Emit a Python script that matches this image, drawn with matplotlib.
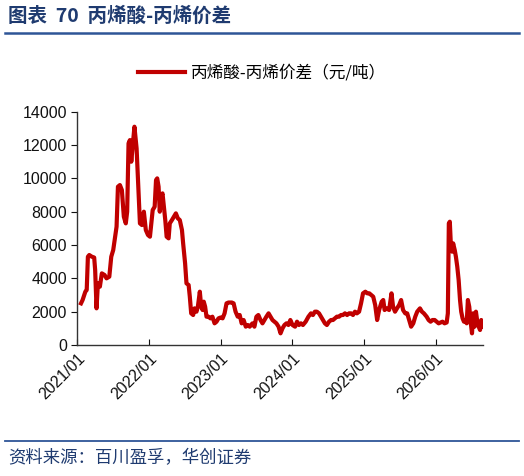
import numpy as np
import pandas as pd
import matplotlib
matplotlib.use("Agg")
import matplotlib.pyplot as plt
import matplotlib.dates as mdates

plt.rcParams['font.family'] = ['Liberation Sans', 'Noto Sans CJK SC', 'DejaVu Sans']

# data (yuan / ton)
dates = [
    "2021-01-20", "2021-01-28", "2021-02-11", "2021-02-18", "2021-02-24", "2021-03-03",
    "2021-03-16", "2021-03-28", "2021-04-02", "2021-04-09", "2021-04-16", "2021-04-26",
    "2021-05-06", "2021-05-20", "2021-05-30", "2021-06-13", "2021-06-23", "2021-07-03",
    "2021-07-13", "2021-07-20", "2021-07-27", "2021-08-06", "2021-08-16", "2021-08-26",
    "2021-09-05", "2021-09-12", "2021-09-19", "2021-09-26", "2021-10-03", "2021-10-09",
    "2021-10-19", "2021-10-30", "2021-11-09", "2021-11-16", "2021-11-26", "2021-12-06",
    "2021-12-16", "2021-12-27",
    "2022-01-06", "2022-01-20", "2022-01-30", "2022-02-06", "2022-02-12", "2022-02-19",
    "2022-02-25", "2022-03-04", "2022-03-11", "2022-03-18", "2022-03-25", "2022-04-01",
    "2022-04-11", "2022-04-17", "2022-04-28", "2022-05-08", "2022-05-18", "2022-05-28",
    "2022-06-07", "2022-06-18", "2022-06-24", "2022-07-04", "2022-07-11", "2022-07-22",
    "2022-07-28", "2022-08-04", "2022-08-14", "2022-08-21", "2022-08-31", "2022-09-07",
    "2022-09-17", "2022-09-24", "2022-10-01", "2022-10-07", "2022-10-14", "2022-10-21",
    "2022-10-31", "2022-11-10", "2022-11-20", "2022-12-01", "2022-12-11", "2022-12-21",
    "2023-01-01", "2023-01-11", "2023-01-21", "2023-01-31", "2023-02-10", "2023-02-27",
    "2023-03-08", "2023-03-18", "2023-03-29", "2023-04-08", "2023-04-18", "2023-04-28",
    "2023-05-09", "2023-05-19", "2023-05-29", "2023-06-12", "2023-06-22", "2023-07-02",
    "2023-07-12", "2023-07-23", "2023-08-02", "2023-08-12", "2023-08-22", "2023-09-02",
    "2023-09-12", "2023-09-22", "2023-10-02", "2023-10-12", "2023-10-23", "2023-11-02",
    "2023-11-12", "2023-11-22", "2023-12-02", "2023-12-12", "2023-12-22",
    "2024-01-02", "2024-01-15", "2024-01-25", "2024-02-04", "2024-02-14", "2024-02-24",
    "2024-03-09", "2024-03-23", "2024-04-05", "2024-04-15", "2024-04-25", "2024-05-05",
    "2024-05-16", "2024-05-26", "2024-06-05", "2024-06-15", "2024-06-25", "2024-07-06",
    "2024-07-16", "2024-07-26", "2024-08-05", "2024-08-15", "2024-08-26", "2024-09-05",
    "2024-09-15", "2024-09-25", "2024-10-06", "2024-10-16", "2024-10-26", "2024-11-05",
    "2024-11-15", "2024-11-25", "2024-12-06", "2024-12-16", "2024-12-26",
    "2025-01-07", "2025-01-17", "2025-01-27", "2025-02-06", "2025-02-16", "2025-02-26",
    "2025-03-08", "2025-03-18", "2025-03-31", "2025-04-08", "2025-04-15", "2025-04-25",
    "2025-05-08", "2025-05-20", "2025-05-28", "2025-06-07", "2025-06-17", "2025-06-28",
    "2025-07-08", "2025-07-18", "2025-07-29", "2025-08-08", "2025-08-18", "2025-08-28",
    "2025-09-08", "2025-09-18", "2025-09-28", "2025-10-12", "2025-10-22", "2025-11-01",
    "2025-11-15", "2025-11-25", "2025-12-05", "2025-12-15", "2025-12-26",
    "2026-01-05", "2026-01-15", "2026-01-25", "2026-02-04", "2026-02-14", "2026-02-25",
    "2026-03-03", "2026-03-08", "2026-03-13", "2026-03-18", "2026-03-25", "2026-03-30",
    "2026-04-07", "2026-04-13", "2026-04-20", "2026-04-27", "2026-05-04", "2026-05-10",
    "2026-05-17", "2026-05-24", "2026-05-31", "2026-06-07", "2026-06-13", "2026-06-20",
    "2026-06-27", "2026-07-04", "2026-07-10", "2026-07-17", "2026-07-24", "2026-07-31",
    "2026-08-07", "2026-08-14", "2026-08-20", "2026-08-27",
]
spread = [
    2500, 2700, 3200, 3300, 5300, 5400,
    5300, 5250, 4500, 2200, 3700, 3500,
    4300, 4200, 4000, 4100, 5300, 5700,
    6500, 7100, 9500, 9600, 9300, 7700,
    7300, 8000, 12100, 12300, 11000, 11800,
    13100, 11800, 9100, 7300, 7200, 8000,
    6900, 6600,
    6500, 8100, 8300, 9900, 10000, 9500,
    8000, 8900, 9100, 8300, 7500, 6500,
    6400, 7300, 7500, 7700, 7900, 7600,
    7500, 6900, 6100, 4900, 3700, 3600,
    2900, 1900, 1800, 2200, 2000, 2300,
    3200, 2300, 2100, 2600, 2300, 1700,
    1700, 1600, 1700, 1300, 1400, 1600,
    1650, 1600, 1900, 2500, 2550, 2550,
    2500, 2000, 1700, 1800, 1300, 1500,
    1100, 1200, 1100, 1300, 1100, 1700,
    1800, 1500, 1300, 1500, 1700, 1900,
    1700, 1500, 1400, 1300, 1100, 700,
    1000, 1200, 1300, 1200, 1500,
    1200, 1100, 1400, 1200, 1300, 1200,
    1400, 1700, 1900, 1800, 2000, 2000,
    1900, 1700, 1500, 1300, 1200, 1400,
    1500, 1500, 1600, 1700, 1700, 1800,
    1800, 1900, 1800, 1900, 1900, 1800,
    2000, 1900, 2000, 2500, 3100,
    3200, 3100, 3100, 3000, 2900, 2400,
    1500, 2100, 2600, 2700, 2100, 2200,
    2100, 3100, 2300, 2000, 2200, 2400,
    2700, 2100, 1900, 1900, 1500, 1100,
    1300, 1700, 2000, 2200, 2000, 1900,
    1700, 1500, 1400, 1500, 1500,
    1400, 1300, 1350, 1400, 1300, 1350,
    1900, 7300, 7400, 6100, 5600, 6100,
    5700, 5300, 4700, 3900, 2700, 2000,
    1600, 1400, 1500, 1300, 2700, 2300,
    1400, 700, 1900, 1100, 2000, 1400,
    1100, 900, 1500, 1100,
]
series_name = "丙烯酸-丙烯价差（元/吨）"
title = "图表  70  丙烯酸-丙烯价差"
source = "资料来源：百川盈孚，华创证券"

x = pd.to_datetime(dates)
y = np.array(spread)

fig = plt.figure(figsize=(5.24, 4.76), dpi=100)
ax = fig.add_axes([0.1475, 0.2752, 0.7735, 0.4901])

ax.plot(x, y, color="#C00000", linewidth=3.0, label=series_name)

ax.set_ylim(0, 14000)
ax.set_yticks(np.arange(0, 14001, 2000))
ax.set_xlim(pd.Timestamp("2021-01-01"), x[-1])
ax.xaxis.set_major_locator(mdates.YearLocator())
ax.xaxis.set_major_formatter(mdates.DateFormatter("%Y/%m"))

for s in ["top", "right"]:
    ax.spines[s].set_visible(False)
for s in ["left", "bottom"]:
    ax.spines[s].set_color("#333333")
    ax.spines[s].set_linewidth(1.0)

ax.tick_params(axis="y", direction="out", length=4, labelsize=11.5, colors="#111111")
ax.tick_params(axis="x", direction="in", length=4, labelsize=11.5, colors="#111111", pad=4)
for lab in ax.get_xticklabels():
    lab.set_rotation(45)
    lab.set_ha("right")
    lab.set_rotation_mode("anchor")

leg = fig.legend(loc="center", bbox_to_anchor=(0.5, 0.846), frameon=False,
                 handlelength=2.8, handletextpad=0.35,
                 prop={"family": ["Noto Sans CJK SC"], "size": 12})

# title and rules
fig.text(0.016, 0.966, title, fontsize=14, fontweight="bold", color="#1F3B70",
         va="center", ha="left", family=["Noto Sans CJK SC"])
fig.add_artist(plt.Line2D([0.01, 0.99], [0.931, 0.931], color="#2E5597", linewidth=1.8))
fig.add_artist(plt.Line2D([0.01, 0.99], [0.074, 0.074], color="#2E5597", linewidth=1.3))
fig.text(0.016, 0.037, source, fontsize=12.5, color="#1F3B70", style="italic",
         va="center", ha="left", family=["Noto Sans CJK SC"])

fig.savefig("out.png", dpi=100)
